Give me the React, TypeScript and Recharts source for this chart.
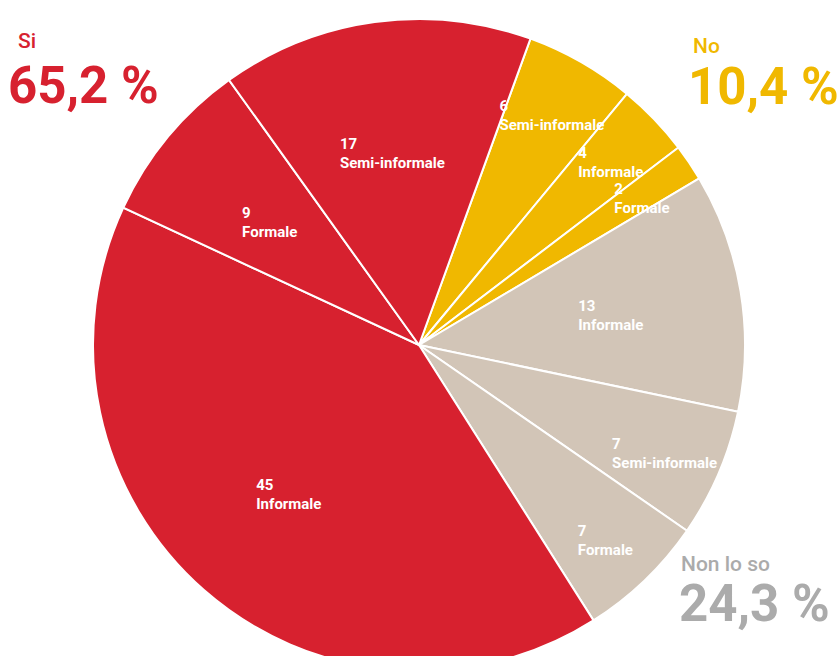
import { PieChart, Pie, Cell } from "recharts";

const groups = ["Si", "No", "Non lo so"];
const groupShares = ["65,2 %", "10,4 %", "24,3 %"];
const groupColors = ["#D7212F", "#F0B800", "#D2C5B7"];
const titleColors = ["#D7212F", "#F0B800", "#ABABAB"];

// slices clockwise from the top
const sliceGroup = [1, 1, 1, 2, 2, 2, 0, 0, 0];
const sliceType = [
  "Semi-informale",
  "Informale",
  "Formale",
  "Informale",
  "Semi-informale",
  "Formale",
  "Informale",
  "Formale",
  "Semi-informale",
];
const sliceValues = [6, 4, 2, 13, 7, 7, 45, 9, 17];

const data = sliceValues.map((v, i) => ({
  name: sliceType[i],
  group: groups[sliceGroup[i]],
  value: v,
}));

const RAD = Math.PI / 180;

const renderLabel = (props: any) => {
  const { cx, cy, midAngle, outerRadius, index, percent } = props;
  const sweep = percent * 360;
  const r = outerRadius * (sweep < 25 ? 0.82 : 0.6);
  const w = sliceType[index].length * 7.5;
  const x = cx + r * Math.cos(-midAngle * RAD) - w / 2;
  const y = cy + r * Math.sin(-midAngle * RAD);
  return (
    <text
      x={x}
      y={y}
      fill="#fff"
      fontSize={15}
      fontWeight={700}
      fontFamily="Roboto, sans-serif"
      textAnchor="start"
    >
      <tspan x={x} dy={-2}>
        {sliceValues[index]}
      </tspan>
      <tspan x={x} dy={19}>
        {sliceType[index]}
      </tspan>
    </text>
  );
};

const titlePos = [
  { x: 18, y: 48, x2: 8, y2: 103 },
  { x: 693, y: 53, x2: 688, y2: 104 },
  { x: 681, y: 571, x2: 679, y2: 621 },
];

export default function App() {
  return (
    <div style={{ position: "absolute", left: 0, top: 0, width: 838, height: 656, background: "#fff" }}>
      <PieChart width={838} height={656}>
        <Pie
          data={data}
          dataKey="value"
          cx={414}
          cy={340}
          outerRadius={326}
          startAngle={70}
          endAngle={-290}
          stroke="#fff"
          strokeWidth={2}
          label={renderLabel}
          labelLine={false}
          isAnimationActive={false}
        >
          {data.map((d, i) => (
            <Cell key={i} fill={groupColors[sliceGroup[i]]} />
          ))}
        </Pie>
        {groups.map((g, i) => (
          <g key={g} fontFamily="Roboto, sans-serif" fill={titleColors[i]}>
            <text x={titlePos[i].x} y={titlePos[i].y} fontSize={21} fontWeight={500}>
              {g}
            </text>
            <text x={titlePos[i].x2} y={titlePos[i].y2} fontSize={51} fontWeight={700}>
              {groupShares[i]}
            </text>
          </g>
        ))}
      </PieChart>
    </div>
  );
}
